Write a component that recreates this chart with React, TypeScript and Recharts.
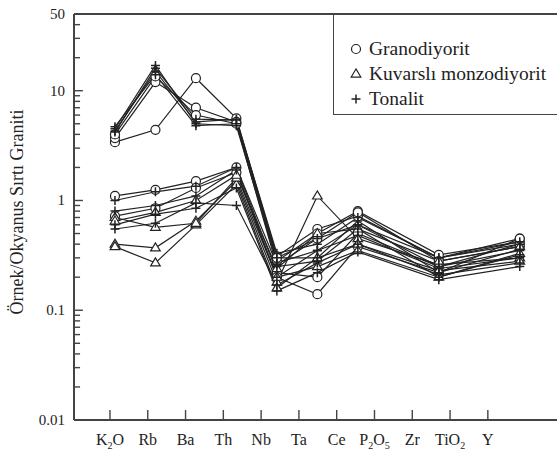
import React from 'react';
import { LineChart, Line, XAxis, YAxis, ReferenceLine } from 'recharts';

// element order on the x axis (digits are drawn as subscripts)
const categories = ['K2O', 'Rb', 'Ba', 'Th', 'Nb', 'Ta', 'Ce', 'P2O5', 'Zr', 'TiO2', 'Y'];

// values per sample, same order as categories; P2O5 and TiO2 are not plotted in the figure
const granodiyorit = [
  [3.4, 4.4, 13, 5.6, 0.31, 0.55, 0.72, null, 0.3, null, 0.45],
  [3.7, 12, 7, 5.2, 0.28, 0.5, 0.8, null, 0.32, null, 0.42],
  [4.0, 13.5, 6.0, 5.0, 0.3, 0.45, 0.78, null, 0.28, null, 0.38],
  [1.1, 1.25, 1.5, 2.0, 0.22, 0.2, 0.5, null, 0.25, null, 0.4],
  [0.72, 0.85, 1.3, 1.8, 0.2, 0.14, 0.38, null, 0.22, null, 0.45],
];
const monzodiyorit = [
  [0.4, 0.37, 0.65, 1.5, 0.18, 1.1, 0.45, null, 0.26, null, 0.3],
  [0.38, 0.27, 0.6, 1.4, 0.16, 0.3, 0.4, null, 0.23, null, 0.28],
  [0.7, 0.57, 0.62, 1.6, 0.2, 0.25, 0.35, null, 0.2, null, 0.33],
  [0.65, 0.78, 1.0, 1.7, 0.24, 0.5, 0.55, null, 0.28, null, 0.38],
];
const tonalit = [
  [4.2, 16, 5.5, 5.4, 0.33, 0.4, 0.7, null, 0.3, null, 0.4],
  [4.5, 17, 5.0, 4.8, 0.27, 0.35, 0.6, null, 0.25, null, 0.35],
  [4.3, 15, 5.2, 5.5, 0.3, 0.3, 0.65, null, 0.22, null, 0.36],
  [4.7, 14, 4.8, 5.0, 0.25, 0.28, 0.55, null, 0.2, null, 0.32],
  [1.0, 1.2, 1.35, 2.0, 0.26, 0.45, 0.6, null, 0.3, null, 0.42],
  [0.8, 0.9, 1.1, 1.9, 0.2, 0.35, 0.48, null, 0.24, null, 0.3],
  [0.6, 0.75, 0.85, 1.3, 0.15, 0.22, 0.34, null, 0.19, null, 0.25],
  [0.55, 0.62, 0.95, 0.9, 0.17, 0.27, 0.4, null, 0.21, null, 0.27],
];

const yTicks = [
  0.01, 0.02, 0.03, 0.04, 0.05, 0.06, 0.07, 0.08, 0.09,
  0.1, 0.2, 0.3, 0.4, 0.5, 0.6, 0.7, 0.8, 0.9,
  1, 2, 3, 4, 5, 6, 7, 8, 9,
  10, 20, 30, 40, 50,
];
const yLabels = [0.01, 0.1, 1, 10, 50];
const legendItems = [
  { shape: 'circle', label: 'Granodiyorit' },
  { shape: 'triangle', label: 'Kuvarslı monzodiyorit' },
  { shape: 'plus', label: 'Tonalit' },
];

const INK = '#222';
const AXIS = '#444';
const FONT = '"Liberation Serif", "Times New Roman", serif';
const X_DATA_DOMAIN = [-0.012, 11.92];

const samples = [
  ...granodiyorit.map((v) => ({ shape: 'circle', values: v })),
  ...monzodiyorit.map((v) => ({ shape: 'triangle', values: v })),
  ...tonalit.map((v) => ({ shape: 'plus', values: v })),
];

const rows = categories.map((c, i) => {
  const row: any = { x: i + 1, name: c };
  samples.forEach((s, j) => {
    row['s' + j] = s.values[i];
  });
  return row;
});

const Marker = ({ shape, cx, cy }: { shape: string; cx: number; cy: number }) => {
  if (shape === 'circle') {
    return <circle cx={cx} cy={cy} r={4.5} fill="#fff" stroke={INK} strokeWidth={1.2} />;
  }
  if (shape === 'triangle') {
    const h = 8;
    return (
      <polygon
        points={`${cx},${cy - h * 0.62} ${cx - 4.8},${cy + h * 0.38} ${cx + 4.8},${cy + h * 0.38}`}
        fill="#fff"
        stroke={INK}
        strokeWidth={1.2}
      />
    );
  }
  return (
    <path
      d={`M${cx - 4.5},${cy}H${cx + 4.5}M${cx},${cy - 4.5}V${cy + 4.5}`}
      stroke={INK}
      strokeWidth={1.5}
      fill="none"
    />
  );
};

const renderDot = (shape: string, id: string) => (props: any) => {
  const { cx, cy, value, index } = props;
  if (value == null || cx == null || cy == null) return <g key={`${id}-${index}`} />;
  return (
    <g key={`${id}-${index}`}>
      <Marker shape={shape} cx={cx} cy={cy} />
    </g>
  );
};

const XTick = (props: any) => {
  const { x, y, payload } = props;
  const label = categories[payload.value - 1] || '';
  const parts = label.match(/(\d+|\D+)/g) || [];
  let shifted = false;
  return (
    <g>
      <line x1={x} x2={x} y1={y} y2={y - 10} stroke={AXIS} strokeWidth={1.4} />
      <text x={x} y={y + 25} textAnchor="middle" fontFamily={FONT} fontSize={16} fill={INK}>
        {parts.map((p: string, i: number) => {
          const isSub = /\d/.test(p);
          const dy = isSub ? (shifted ? 0 : 4) : shifted ? -4 : 0;
          shifted = isSub;
          return (
            <tspan key={i} dy={dy} fontSize={isSub ? 10 : 16}>
              {p}
            </tspan>
          );
        })}
      </text>
    </g>
  );
};

const YTick = (props: any) => {
  const { x, y, payload } = props;
  if (!yLabels.includes(payload.value)) return <text />;
  return (
    <text x={x - 9} y={y + 5} textAnchor="end" fontFamily={FONT} fontSize={15} fill={INK}>
      {payload.value}
    </text>
  );
};

export default function App() {
  return (
    <div style={{ position: 'absolute', left: 0, top: 0, width: 557, height: 453, background: '#fff', overflow: 'hidden' }}>
      <LineChart width={557} height={453} data={rows} margin={{ top: 14, right: 0, bottom: 0, left: 0 }}>
        <XAxis xAxisId="data" type="number" dataKey="x" domain={X_DATA_DOMAIN} allowDataOverflow hide height={0} />
        <XAxis
          xAxisId="ticks"
          type="number"
          dataKey="x"
          domain={[0.048, 12.83]}
          ticks={[1, 2, 3, 4, 5, 6, 7, 8, 9, 10, 11]}
          interval={0}
          allowDataOverflow
          tick={<XTick />}
          tickSize={0}
          tickMargin={0}
          tickLine={false}
          height={33}
          axisLine={{ stroke: AXIS, strokeWidth: 2 }}
        />
        <YAxis
          scale="log"
          domain={[0.01, 50]}
          ticks={yTicks}
          interval={0}
          allowDataOverflow
          width={74}
          tick={<YTick />}
          tickSize={0}
          tickMargin={0}
          tickLine={false}
          axisLine={{ stroke: AXIS, strokeWidth: 2 }}
        />
        <ReferenceLine xAxisId="data" y={50} stroke={AXIS} strokeWidth={2} />
        {/* inward tick marks on the log axis */}
        {yTicks.map((v) => (
          <ReferenceLine
            key={'yt' + v}
            xAxisId="data"
            segment={[
              { x: X_DATA_DOMAIN[0], y: v },
              { x: X_DATA_DOMAIN[0] + (yLabels.includes(v) ? 0.22 : 0.15), y: v },
            ]}
            stroke={AXIS}
            strokeWidth={1.4}
            ifOverflow="visible"
          />
        ))}
        {samples.map((s, j) => (
          <Line
            key={'s' + j}
            xAxisId="data"
            dataKey={'s' + j}
            stroke={INK}
            strokeWidth={1.2}
            connectNulls
            isAnimationActive={false}
            dot={renderDot(s.shape, 's' + j)}
            activeDot={false}
          />
        ))}
      </LineChart>
      <div
        style={{
          position: 'absolute',
          left: 17,
          top: 212,
          transform: 'translate(-50%, -50%) rotate(-90deg)',
          whiteSpace: 'nowrap',
          fontFamily: FONT,
          fontSize: 18,
          color: INK,
        }}
      >
        Örnek/Okyanus Sırtı Graniti
      </div>
      <div
        style={{
          position: 'absolute',
          left: 333,
          top: 13,
          width: 240,
          height: 102,
          boxSizing: 'border-box',
          border: `1.5px solid ${AXIS}`,
          paddingTop: 22,
          paddingLeft: 14,
          fontFamily: FONT,
          fontSize: 19.5,
          color: INK,
        }}
      >
        {legendItems.map((it) => (
          <div key={it.label} style={{ display: 'flex', alignItems: 'center', height: 25 }}>
            <svg width={18} height={14} style={{ marginRight: 3 }}>
              <Marker shape={it.shape} cx={8} cy={7} />
            </svg>
            <span>{it.label}</span>
          </div>
        ))}
      </div>
    </div>
  );
}
